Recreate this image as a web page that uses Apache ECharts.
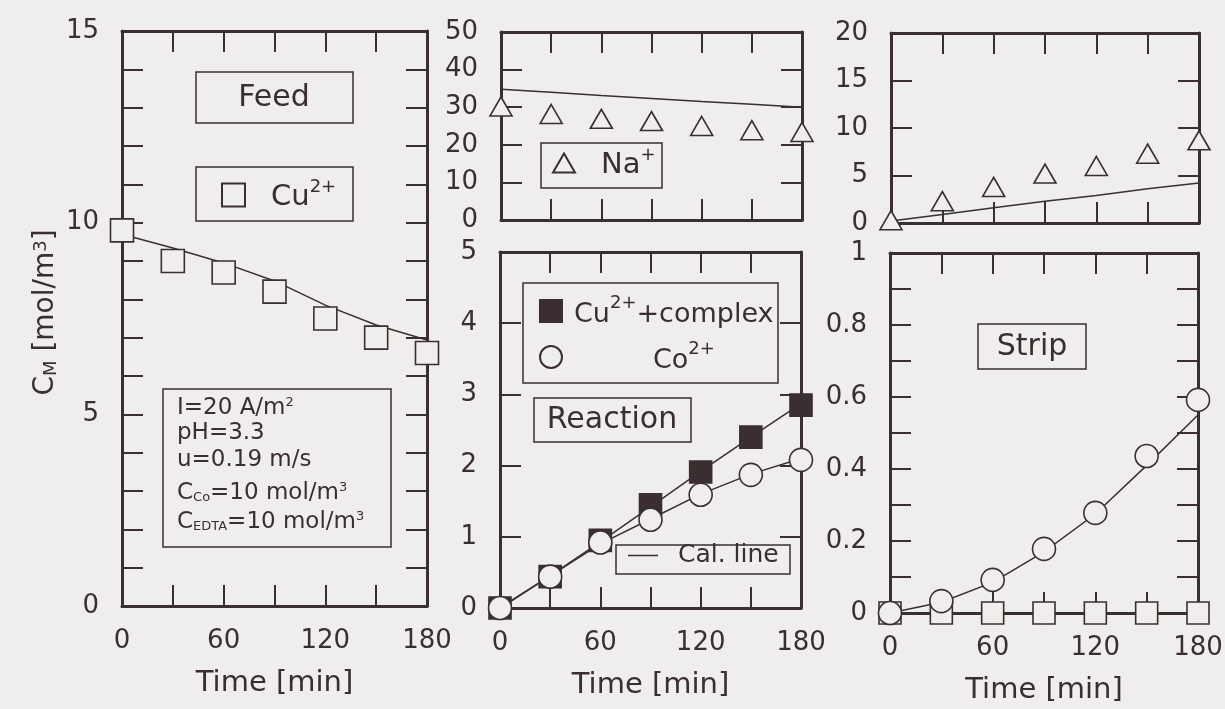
<!DOCTYPE html>
<html>
<head>
<meta charset="utf-8">
<script src="https://cdn.jsdelivr.net/npm/echarts@6/dist/echarts.min.js"></script>
<style>
html,body{margin:0;padding:0;background:#efeeec;}
#graph{width:1225px;height:709px;}
</style>
</head>
<body>
<div id="graph"></div>
<script>
// sampling times [min], shared by every panel
const time = [0, 30, 60, 90, 120, 150, 180];

// Feed side
const feedCu = [9.8, 9.0, 8.7, 8.2, 7.5, 7.0, 6.6];
const feedCuCal = [9.7, 9.34, 8.95, 8.48, 7.85, 7.33, 6.94];
const feedNa = [30.2, 28.2, 26.9, 26.3, 25.0, 23.9, 23.4];
const feedNaCal = [34.8, 34.0, 33.1, 32.3, 31.5, 30.8, 30.0];

// Reaction side
const reactCu = [0, 0.44, 0.95, 1.45, 1.91, 2.40, 2.85];
const reactCuCal = [0, 0.45, 0.93, 1.42, 1.92, 2.40, 2.87];
const reactCo = [0, 0.44, 0.92, 1.24, 1.59, 1.87, 2.08];
const reactCoCal = [0, 0.45, 0.90, 1.25, 1.60, 1.88, 2.10];

// Strip side
const stripNa = [0.3, 2.3, 3.8, 5.2, 6.0, 7.3, 8.7];
const stripNaCal = [0.2, 0.9, 1.6, 2.3, 2.9, 3.6, 4.2];
const stripCo = [0, 0.033, 0.092, 0.178, 0.278, 0.436, 0.592];
const stripCoCal = [0, 0.03, 0.085, 0.17, 0.275, 0.41, 0.55];
const stripCu = [0, 0, 0, 0, 0, 0, 0];
const stripCuCal = [0, 0, 0, 0, 0, 0, 0];

// tick labels that are printed (other ticks stay blank)
const xTickLabels = [0, 60, 120, 180];
const feedYLabels = [0, 5, 10, 15];
const stripYLabels = [0, 0.2, 0.4, 0.6, 0.8, 1];

const ink = '#3a2e30';
const bg = '#efeeec';
const font = 'DejaVu Sans';

function pairs(arr){
    return time.map((t, i) => [t, arr[i]]);
}

function hasLabel(list, v){
    return list.some(l => Math.abs(l - v) < 1e-6);
}

// x axes: bottom one + top one, they make the frame
function xPair(grid, showLabels){
    let line = {show: true, onZero: false, lineStyle: {color: ink, width: 3}};
    let tick = {show: true, inside: true, length: 21, lineStyle: {color: ink, width: 2}};
    return [{
        type: 'value', gridIndex: grid, position: 'bottom', min: 0, max: 180, interval: 30,
        axisLine: line, axisTick: tick, splitLine: {show: false},
        axisLabel: {show: showLabels, margin: 22, color: ink, fontSize: 26, fontFamily: font,
            formatter: v => xTickLabels.includes(v) ? String(v) : ''},
        name: showLabels ? 'Time [min]' : '', nameLocation: 'middle', nameGap: 63,
        nameTextStyle: {color: ink, fontSize: 29, fontFamily: font}
    }, {
        type: 'value', gridIndex: grid, position: 'top', min: 0, max: 180, interval: 30,
        axisLine: line, axisTick: tick, splitLine: {show: false}, axisLabel: {show: false}
    }];
}

// y axes: left with labels, right only ticks
function yPair(grid, max, step, fmt){
    let line = {show: true, onZero: false, lineStyle: {color: ink, width: 3}};
    let tick = {show: true, inside: true, length: 21, lineStyle: {color: ink, width: 2}};
    return [{
        type: 'value', gridIndex: grid, position: 'left', min: 0, max: max, interval: step,
        axisLine: line, axisTick: tick, splitLine: {show: false},
        axisLabel: {margin: 23, color: ink, fontSize: 26, fontFamily: font, formatter: fmt}
    }, {
        type: 'value', gridIndex: grid, position: 'right', min: 0, max: max, interval: step,
        axisLine: line, axisTick: tick, splitLine: {show: false}, axisLabel: {show: false}
    }];
}

let xAxes = [].concat(xPair(0, true), xPair(1, false), xPair(2, true), xPair(3, false), xPair(4, true));
let yAxes = [].concat(
    yPair(0, 15, 1, v => hasLabel(feedYLabels, v) ? String(v) : ''),
    yPair(1, 50, 10, v => String(v)),
    yPair(2, 5, 1, v => String(v)),
    yPair(3, 20, 5, v => String(v)),
    yPair(4, 1, 0.1, v => hasLabel(stripYLabels, v) ? String(+v.toFixed(1)) : '')
);
// C_M label on the feed axis
yAxes[0].name = 'C{sub|M} [mol/m{sup|3}]';
yAxes[0].nameLocation = 'middle';
yAxes[0].nameGap = 62;
yAxes[0].nameTextStyle = {color: ink, fontSize: 28, fontFamily: font, padding: [0, 0, 0, 12],
    rich: {sub: {fontSize: 18, fontFamily: font, color: ink, verticalAlign: 'bottom'},
           sup: {fontSize: 18, fontFamily: font, color: ink, verticalAlign: 'top'}}};

function calLine(name, grid, arr){
    return {name: name, type: 'line', xAxisIndex: grid * 2, yAxisIndex: grid * 2,
        data: pairs(arr), symbol: 'none', clip: false, z: 2, color: ink,
        lineStyle: {color: ink, width: 1.5}, emphasis: {disabled: true}};
}
function marks(name, grid, arr, symbol, size, filled){
    return {name: name, type: 'scatter', xAxisIndex: grid * 2, yAxisIndex: grid * 2,
        data: pairs(arr), symbol: symbol, symbolSize: size, clip: false, z: 3,
        itemStyle: {color: filled ? ink : bg, borderColor: ink, borderWidth: 1.6, opacity: 1},
        emphasis: {disabled: true}};
}

let series = [
    calLine('Cal. line', 0, feedCuCal),
    marks('Cu feed', 0, feedCu, 'rect', 23, false),
    calLine('Cal. line', 1, feedNaCal),
    marks('Na feed', 1, feedNa, 'triangle', [22, 19], false),
    calLine('Cal. line', 2, reactCuCal),
    calLine('Cal. line', 2, reactCoCal),
    marks('Cu complex', 2, reactCu, 'rect', 22, true),
    marks('Co react', 2, reactCo, 'circle', 23, false),
    calLine('Cal. line', 3, stripNaCal),
    marks('Na strip', 3, stripNa, 'triangle', [22, 19], false),
    calLine('Cal. line', 4, stripCuCal),
    calLine('Cal. line', 4, stripCoCal),
    marks('Cu strip', 4, stripCu, 'rect', 22, false),
    marks('Co strip', 4, stripCo, 'circle', 23, false)
];

const rich = {
    t: {fontSize: 29, fontFamily: font, color: ink, lineHeight: 34, verticalAlign: 'bottom'},
    k: {fontSize: 27, fontFamily: font, color: ink, lineHeight: 34, verticalAlign: 'bottom'},
    s: {fontSize: 18, fontFamily: font, color: ink, verticalAlign: 'top', lineHeight: 20},
    c: {fontSize: 25, fontFamily: font, color: ink, lineHeight: 26},
    g: {width: 21}, g2: {width: 7}, g3: {width: 86}, g4: {width: 15}
};
const legendText = {
    'Cu feed': '{g| }{t|Cu}{s|2+}',
    'Na feed': '{g| }{t|Na}{s|+}',
    'Cu complex': '{g2| }{k|Cu}{s|2+}{k|+complex}',
    'Co react': '{g3| }{k|Co}{s|2+}',
    'Cal. line': '{g4| }{c|Cal. line}'
};
function legendAt(names, left, top, w, h, gap, icon){
    let l = {data: names, left: left, top: top, orient: 'vertical', padding: 0,
        itemWidth: w, itemHeight: h, itemGap: gap || 10, selectedMode: false,
        formatter: n => legendText[n], textStyle: {color: ink, rich: rich}};
    if(icon) l.icon = icon;
    return l;
}

// boxes and free text inside the panels
function box(x, y, w, h){
    return {type: 'rect', shape: {x: x, y: y, width: w, height: h},
        style: {fill: 'none', stroke: ink, lineWidth: 1.5}, z: 10};
}
function label(txt, x, y, size, align){
    return {type: 'text', x: x, y: y, z: 10,
        style: {text: txt, fill: ink, fontSize: size, fontFamily: font,
            align: align || 'center', verticalAlign: 'middle',
            rich: {sub: {fontSize: 13, fontFamily: font, fill: ink, verticalAlign: 'bottom'},
                   sup: {fontSize: 13, fontFamily: font, fill: ink, verticalAlign: 'top'}}}};
}

let graphic = [
    box(196, 72, 157, 51), label('Feed', 274, 98, 30),
    box(196, 167, 157, 54),
    box(163, 389, 228, 158),
    label('I=20 A/m{sup|2}', 177, 408, 23, 'left'),
    label('pH=3.3', 177, 433, 23, 'left'),
    label('u=0.19 m/s', 177, 460, 23, 'left'),
    label('C{sub|Co}=10 mol/m{sup|3}', 177, 493, 23, 'left'),
    label('C{sub|EDTA}=10 mol/m{sup|3}', 177, 522, 23, 'left'),
    box(541, 143, 121, 45),
    box(523, 283, 255, 100),
    box(534, 398, 157, 44), label('Reaction', 612, 420, 30),
    box(616, 545, 174, 29),
    box(978, 324, 108, 45), label('Strip', 1032, 347, 30)
];

let myChart = echarts.init(document.getElementById('graph'));
let option = {
    backgroundColor: bg,
    animation: false,
    grid: [
        {left: 122, top: 31, width: 305, height: 575, outerBoundsMode: 'none'},
        {left: 501, top: 32, width: 301, height: 188, outerBoundsMode: 'none'},
        {left: 500, top: 252, width: 301, height: 356, outerBoundsMode: 'none'},
        {left: 891, top: 33, width: 308, height: 190, outerBoundsMode: 'none'},
        {left: 890, top: 253, width: 308, height: 360, outerBoundsMode: 'none'}
    ],
    xAxis: xAxes,
    yAxis: yAxes,
    legend: [
        legendAt(['Cu feed'], 221, 178, 23, 23),
        legendAt(['Na feed'], 552, 146, 22, 19),
        legendAt(['Cu complex', 'Co react'], 539, 294, 22, 22, 12),
        legendAt(['Cal. line'], 628, 543, 30, 1.5, 10, 'rect')
    ],
    graphic: graphic,
    series: series
};
myChart.setOption(option);
</script>
</body>
</html>
